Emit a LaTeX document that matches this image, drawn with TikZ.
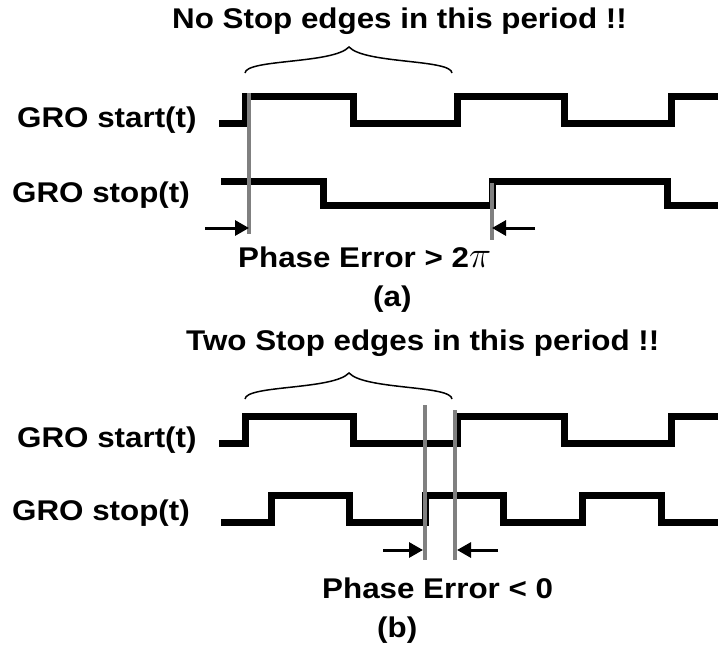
\documentclass[tikz,border=0pt]{standalone}
\usepackage{fontspec}
\setmainfont{Liberation Sans}[FakeStretch=1.1]
\usepackage{tikz}
\usetikzlibrary{arrows.meta}
\definecolor{markgray}{HTML}{808080}

\begin{document}
\begin{tikzpicture}[x=1pt, y=-1pt,
          lbl/.style={anchor=base west, inner sep=0pt, font=\fontsize{28.5}{34}\selectfont\bfseries},
          sig/.style={line width=7pt, black, line join=miter},
          edgeln/.style={line width=4pt, markgray},
          arr/.style={-{Triangle[length=14pt,width=15pt]}, line width=3pt, black},
          brc/.style={line width=1.5pt, black}
        ]
        \useasboundingbox (0,0) rectangle (718,646);

        % (a)
        \node[lbl] (titleA) at (172,28) {No Stop edges in this period !!};
        \node[lbl] (startA) at (17,127) {GRO start(t)};
        \node[lbl] (stopA)  at (12,202) {GRO stop(t)};
        \node[lbl] (errA)   at (238,267) {Phase Error > 2\scalebox{1.5}{$\pi$}};
        \node[lbl] (capA)   at (373,306) {(a)};

        \draw[brc] (245,73) .. controls (246,59) and (333,64) .. (349,47)
                   .. controls (365,64) and (451,59) .. (452,73);
        \draw[sig] (219,123) -| (245,96) -| (353,123) -| (457,96) -| (564,123) -| (671,96) -- (718,96);
        \draw[sig] (221,181) -| (323,205) -| (492,181) -| (667,205) -- (718,205);

        \coordinate (mA1t) at (249,93);  \coordinate (mA1b) at (249,234);
        \coordinate (mA2t) at (492,183); \coordinate (mA2b) at (492,240);
        \draw[edgeln] (mA1t) -- (mA1b);
        \draw[edgeln] (mA2t) -- (mA2b);
        \coordinate (aA1) at (205,228); \coordinate (aA2) at (535,228);
        \draw[arr] (aA1) -- (mA1b |- aA1);
        \draw[arr] (aA2) -- (mA2b |- aA2);

        % (b)
        \node[lbl] (titleB) at (186,350) {Two Stop edges in this period !!};
        \node[lbl] (startB) at (17,447) {GRO start(t)};
        \node[lbl] (stopB)  at (12,520) {GRO stop(t)};
        \node[lbl] (errB)   at (322,598) {Phase Error < 0};
        \node[lbl] (capB)   at (377,637) {(b)};

        \draw[brc] (245,399) .. controls (246,385) and (333,390) .. (349,373)
                   .. controls (365,390) and (451,385) .. (452,399);
        \draw[sig] (219,443) -| (245,416) -| (353,443) -| (457,416) -| (564,443) -| (671,416) -- (718,416);
        \draw[sig] (221,522) -| (271,495) -| (349,522) -| (425,495) -| (503,522) -| (582,495) -| (661,522) -- (718,522);

        \coordinate (mB1t) at (425,405); \coordinate (mB1b) at (425,560);
        \coordinate (mB2t) at (455,410); \coordinate (mB2b) at (455,560);
        \draw[edgeln] (mB1t) -- (mB1b);
        \draw[edgeln] (mB2t) -- (mB2b);
        \coordinate (aB1) at (383,550); \coordinate (aB2) at (498,550);
        \draw[arr] (aB1) -- ([xshift=-2pt]mB1b |- aB1);
        \draw[arr] (aB2) -- ([xshift=2pt]mB2b |- aB2);
      \end{tikzpicture}
\end{document}
